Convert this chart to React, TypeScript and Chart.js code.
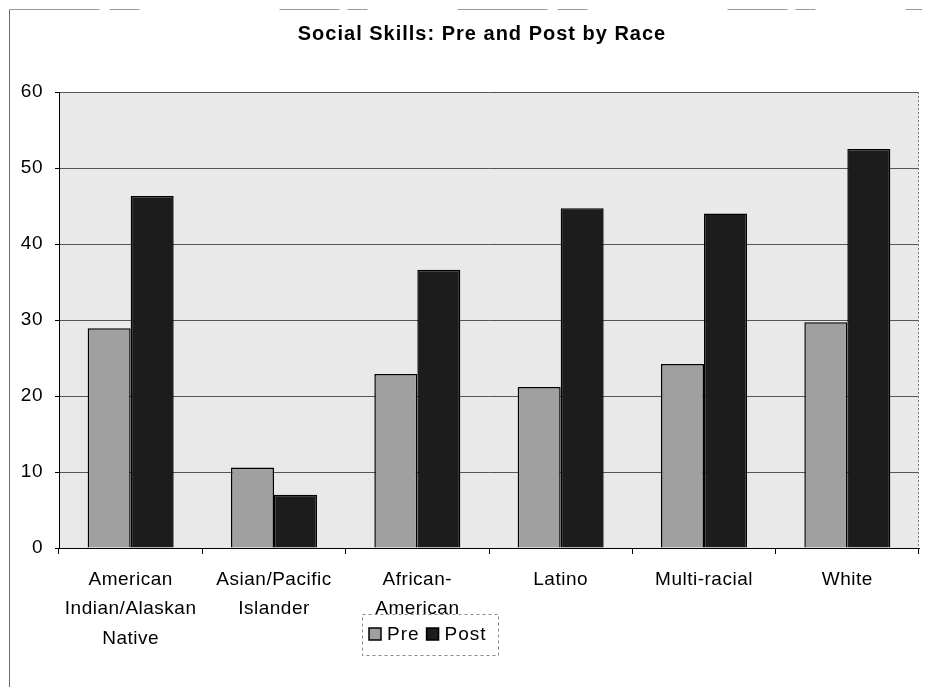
import React, { useEffect, useRef } from "react";
import { Chart, registerables } from "chart.js";

Chart.register(...registerables);

const chartTitle = "Social Skills: Pre and Post by Race";
const categories: (string | string[])[] = [
  ["American", "Indian/Alaskan", "Native"],
  ["Asian/Pacific", "Islander"],
  ["African-", "American"],
  "Latino",
  "Multi-racial",
  "White",
];
const seriesNames = ["Pre", "Post"];
const preValues = [28.9, 10.6, 22.9, 21.2, 24.2, 29.7];
const postValues = [46.3, 7.0, 36.6, 44.7, 44.0, 52.5];
const yTicks = [0, 10, 20, 30, 40, 50, 60];

const FONT = "'Liberation Sans', Arial, Helvetica, sans-serif";
const PRE_COLOR = "#a0a0a0";
const POST_COLOR = "#1c1c1c";

const decor = {
  id: "decor",
  beforeDraw(chart: any) {
    const { ctx, chartArea: a } = chart;
    ctx.save();
    ctx.fillStyle = "#ffffff";
    ctx.fillRect(0, 0, chart.width, chart.height);
    ctx.fillStyle = "#e9e9e9";
    ctx.fillRect(a.left, a.top, a.right - a.left, a.bottom - a.top);
    // outer frame
    ctx.lineWidth = 1;
    ctx.strokeStyle = "#6a6a6a";
    ctx.beginPath();
    ctx.moveTo(1.5, 1.5);
    ctx.lineTo(1.5, chart.height);
    ctx.stroke();
    ctx.strokeStyle = "#9a9a9a";
    ctx.setLineDash([90, 10, 30, 140, 60, 8, 20, 90]);
    ctx.beginPath();
    ctx.moveTo(1.5, 1.5);
    ctx.lineTo(chart.width, 1.5);
    ctx.stroke();
    ctx.setLineDash([]);
    // title
    ctx.fillStyle = "#000";
    ctx.font = `bold 20px ${FONT}`;
    ctx.textAlign = "center";
    ctx.textBaseline = "middle";
    (ctx as any).letterSpacing = "1px";
    ctx.fillText(chartTitle, 474, 26);
    ctx.restore();
    (ctx as any).letterSpacing = "0.5px";
  },
  afterDraw(chart: any) {
    const { ctx, chartArea: a } = chart;
    ctx.save();
    // plot right border
    ctx.strokeStyle = "#777";
    ctx.lineWidth = 1;
    ctx.setLineDash([2, 2]);
    ctx.beginPath();
    ctx.moveTo(a.right - 0.5, a.top);
    ctx.lineTo(a.right - 0.5, a.bottom);
    ctx.stroke();
    ctx.setLineDash([]);
    // legend
    const bx = 354, by = 606, bw = 136, bh = 41;
    ctx.fillStyle = "#fff";
    ctx.fillRect(bx, by, bw, bh);
    ctx.strokeStyle = "#888";
    ctx.setLineDash([3, 3]);
    ctx.strokeRect(bx + 0.5, by + 0.5, bw, bh);
    ctx.setLineDash([]);
    ctx.font = `19px ${FONT}`;
    ctx.textAlign = "left";
    ctx.textBaseline = "middle";
    (ctx as any).letterSpacing = "1px";
    let x = bx + 7;
    const cy = by + 20;
    chart.data.datasets.forEach((ds: any) => {
      ctx.fillStyle = ds.backgroundColor;
      ctx.fillRect(x, cy - 6, 12, 12);
      ctx.strokeStyle = "#000";
      ctx.lineWidth = 1.5;
      ctx.strokeRect(x, cy - 6, 12, 12);
      ctx.fillStyle = "#000";
      ctx.fillText(ds.label, x + 18, cy + 1);
      x += 18 + ctx.measureText(ds.label).width + 7;
    });
    ctx.restore();
  },
};

export default function App() {
  const ref = useRef<HTMLCanvasElement | null>(null);
  useEffect(() => {
    if (!ref.current) return;
    const chart = new Chart(ref.current, {
      type: "bar",
      data: {
        labels: categories,
        datasets: [
          {
            label: seriesNames[0],
            data: preValues,
            backgroundColor: PRE_COLOR,
            borderColor: "#000",
            borderWidth: 1.5,
            borderSkipped: "bottom",
          },
          {
            label: seriesNames[1],
            data: postValues,
            backgroundColor: POST_COLOR,
            borderColor: "#000",
            borderWidth: 1.5,
            borderSkipped: "bottom",
          },
        ],
      },
      options: {
        responsive: false,
        animation: false,
        devicePixelRatio: 1,
        layout: { padding: { top: 84, right: 3, left: 0, bottom: 0 } },
        datasets: { bar: { barPercentage: 1, categoryPercentage: 0.6 } },
        plugins: {
          legend: { display: false },
          title: { display: false },
          tooltip: { enabled: false },
        },
        scales: {
          x: {
            grid: {
              display: true,
              drawOnChartArea: false,
              offset: true,
              tickLength: 6,
              tickColor: "#000",
            },
            border: { display: true, color: "#000", width: 1 },
            ticks: {
              color: "#000",
              font: { family: FONT, size: 19, lineHeight: 1.55 },
              padding: 11,
              maxRotation: 0,
              autoSkip: false,
            },
            afterFit: (s: any) => {
              s.height = 139;
            },
          },
          y: {
            min: yTicks[0],
            max: yTicks[yTicks.length - 1],
            ticks: {
              stepSize: yTicks[1] - yTicks[0],
              color: "#000",
              font: { family: FONT, size: 19 },
              padding: 12,
            },
            grid: {
              color: "#555",
              lineWidth: 1,
              tickLength: 4,
              tickColor: "#000",
            },
            border: { display: true, color: "#000", width: 1 },
            afterFit: (s: any) => {
              s.width = 51;
            },
          },
        },
      },
      plugins: [decor],
    });
    return () => chart.destroy();
  }, []);
  return (
    <div style={{ width: 914, height: 679 }}>
      <canvas ref={ref} width={914} height={679} style={{ display: "block" }} />
    </div>
  );
}
